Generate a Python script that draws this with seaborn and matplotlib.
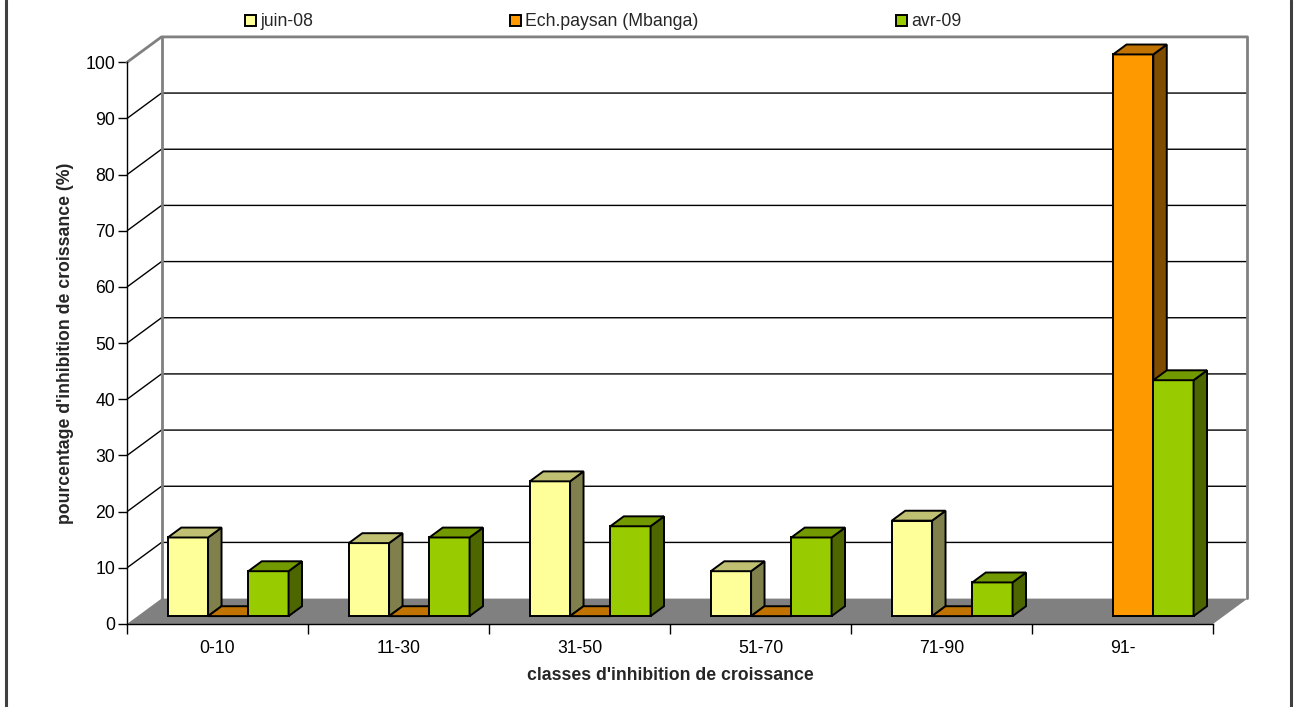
import numpy as np
import pandas as pd
import matplotlib
matplotlib.use("Agg")
import matplotlib.pyplot as plt
from matplotlib.patches import Polygon, Patch
from matplotlib.lines import Line2D
import seaborn as sns

# ---- data -------------------------------------------------------------
classes = ["0-10", "11-30", "31-50", "51-70", "71-90", "91-"]
series = ["juin-08", "Ech.paysan (Mbanga)", "avr-09"]
juin_08 = [14, 13, 24, 8, 17, np.nan]
ech_paysan = [0, 0, 0, 0, 0, 100]
avr_09 = [8, 14, 16, 14, 6, 42]
y_ticks = list(range(0, 101, 10))

# ---- style ------------------------------------------------------------
front_colors = ["#FFFF99", "#FF9900", "#99CC00"]
top_colors = ["#C0C073", "#C07300", "#739900"]
side_colors = ["#80804D", "#804C00", "#4D6600"]
WALL = "#808080"
FS = 12.7

sns.set_style("white")
plt.rcParams["font.family"] = ["Liberation Sans", "DejaVu Sans"]

df = pd.DataFrame({
    "classe": classes * len(series),
    "serie": np.repeat(series, len(classes)),
    "pct": juin_08 + ech_paysan + avr_09,
})

W, H = 1298, 707
fig = plt.figure(figsize=(W / 100, H / 100), dpi=100)
ax = fig.add_axes([0, 0, 1, 1])

# front plane geometry (pixels) and oblique depth of the 3-D box
X0_PX, CAT_PX = 217.5, 181.0
Y0_PX, UNIT_PX = 624.0, 5.617
DX = 34.5 / CAT_PX
DY = 25.4 / UNIT_PX
F0, F1 = 0.31, 0.70      # depth band occupied by the columns
D = F1 - F0

sns.barplot(data=df, x="classe", y="pct", hue="serie", order=classes,
            hue_order=series, palette=front_colors, saturation=1,
            width=0.667, edgecolor="black", linewidth=1.4,
            errorbar=None, legend=False, ax=ax)

ax.set_xlim((0 - X0_PX) / CAT_PX, (W - X0_PX) / CAT_PX)
ax.set_ylim((Y0_PX - H) / UNIT_PX, Y0_PX / UNIT_PX)

n = len(classes)
xl, xr = -0.5, n - 0.5

# floor
ax.add_patch(Polygon([(xl, 0), (xr, 0), (xr + DX, DY), (xl + DX, DY)],
                     closed=True, facecolor=WALL, edgecolor="none", zorder=1))
# gridlines on side wall and back wall
for v in y_ticks[1:-1]:
    ax.plot([xl, xl + DX, xr + DX], [v, v + DY, v + DY],
            color="black", lw=1, zorder=1.2, solid_capstyle="butt")
# wall outline
ax.plot([xl, xl + DX, xr + DX, xr + DX], [100, 100 + DY, 100 + DY, DY],
        color=WALL, lw=2, zorder=1.3)
ax.plot([xl + DX, xl + DX], [DY, 100 + DY], color=WALL, lw=2, zorder=1.3)

# turn the flat bars into 3-D columns
for i, cont in enumerate(ax.containers):
    for p in cont.patches:
        h = p.get_height()
        if not np.isfinite(h):
            p.set_visible(False)
            continue
        x = p.get_x() + F0 * DX
        y = p.get_y() + F0 * DY
        w = p.get_width()
        p.set_x(x)
        p.set_y(y)
        p.set_zorder(3 + i)
        top = Polygon([(x, y + h), (x + w, y + h),
                       (x + w + D * DX, y + h + D * DY), (x + D * DX, y + h + D * DY)],
                      closed=True, facecolor=top_colors[i], edgecolor="black",
                      lw=1.4, zorder=3 + i)
        side = Polygon([(x + w, y), (x + w + D * DX, y + D * DY),
                        (x + w + D * DX, y + h + D * DY), (x + w, y + h)],
                       closed=True, facecolor=side_colors[i], edgecolor="black",
                       lw=1.4, zorder=3 + i)
        ax.add_patch(side)
        ax.add_patch(top)

# axes
ax.spines[["top", "right"]].set_visible(False)
ax.spines["left"].set_position(("data", xl))
ax.spines["left"].set_bounds(0, 100)
ax.spines["bottom"].set_position(("data", 0))
ax.spines["bottom"].set_bounds(xl, xr)
for s in ("left", "bottom"):
    ax.spines[s].set_color("black")
    ax.spines[s].set_linewidth(1)
    ax.spines[s].set_zorder(2)

ax.set_yticks(y_ticks)
ax.set_yticklabels([str(v) for v in y_ticks])
ax.tick_params(axis="y", left=True, length=6.5, width=1, pad=2,
               labelsize=FS, color="black", labelcolor="black")
ax.set_xticks(range(n))
ax.set_xticklabels(classes)
ax.set_xticks([xl + k for k in range(n + 1)], minor=True)
ax.tick_params(axis="x", which="major", bottom=True, length=0, pad=11.5,
               labelsize=FS, labelcolor="black")
ax.tick_params(axis="x", which="minor", bottom=True, length=7.2, width=1,
               color="black")
ax.set_xlabel("")
ax.set_ylabel("")

fig.text(670 / W, 1 - 676 / H, "classes d'inhibition de croissance",
         ha="center", va="center", fontsize=FS, fontweight="bold")
fig.text(66 / W, 1 - 343 / H, "pourcentage d'inhibition de croissance (%)",
         ha="center", va="center", rotation=90, fontsize=FS, fontweight="bold")

handles = [Patch(facecolor=c, edgecolor="black", linewidth=1.4) for c in front_colors]
fig.legend(handles, series, loc="center left", bbox_to_anchor=(245 / W, 1 - 22 / H),
           ncol=3, frameon=False, fontsize=FS, handlelength=0.6, handleheight=0.6,
           handletextpad=0.25, columnspacing=11.2, borderpad=0, borderaxespad=0)

# chart area frame
for xp in (6, 1291):
    fig.add_artist(Line2D([xp / W, xp / W], [0, 1], transform=fig.transFigure,
                          color="#404040", lw=2.2))

fig.savefig("out.png", dpi=100)
